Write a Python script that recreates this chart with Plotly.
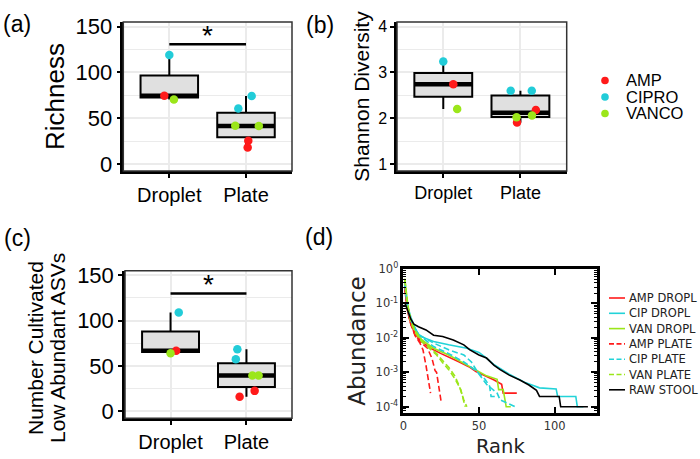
import numpy as np
import plotly.graph_objects as go

W, H = 700, 459
def PX(x): return x / W
def PY(y): return 1 - y / H

# ---------------- data ----------------
group_labels = ["Droplet", "Plate"]
abx_names = ["AMP", "CIPRO", "VANCO"]
abx_colors = {"AMP": "#FF1A1A", "CIPRO": "#22CCD8", "VANCO": "#9BE61A"}

pt_group = [1, 1, 1, 2, 2, 2, 2, 2, 2]
pt_abx = ["AMP", "CIPRO", "VANCO", "AMP", "AMP", "CIPRO", "CIPRO", "VANCO", "VANCO"]

# (a) Richness
a_val = [74.5, 119, 70.6, 25.4, 18.2, 60.7, 74.2, 41.8, 41.5]
a_jit = [-0.065, 0.0, 0.06, 0.03, 0.022, -0.10, 0.074, -0.14, 0.167]
# (b) Shannon diversity
b_val = [2.74, 3.24, 2.20, 2.18, 1.91, 2.60, 2.60, 2.06, 2.02]
b_jit = [0.13, 0.0, 0.18, 0.20, -0.044, -0.126, 0.147, 0.15, -0.05]
# (c) Number of cultivated low-abundant ASVs
c_val = [66.9, 109, 64, 22.7, 16.1, 68.4, 57.5, 39.5, 39.5]
c_jit = [0.074, 0.108, 0.0, 0.108, -0.09, -0.12, -0.14, 0.078, 0.16]

sig_a = 130.6
sig_c = 129.8

# (d) rank-abundance curves
amp_dropl_rank = [1, 2, 3, 5, 8, 12, 18, 25, 30, 37, 44, 48, 53, 60, 65, 66, 75]
amp_dropl_ab = [0.251, 0.112, 0.056, 0.025, 0.0126, 0.0079, 0.005, 0.0035, 0.0028, 0.002,
                0.0014, 0.00105, 0.00083, 0.0006, 0.00045, 0.00025, 0.00025]
cip_dropl_rank = [1, 2, 3, 5, 8, 11, 20, 30, 42, 50, 55, 60, 70, 80, 90, 101, 102, 114, 115, 119]
cip_dropl_ab = [0.316, 0.141, 0.079, 0.040, 0.018, 0.0112, 0.0079, 0.0063, 0.005, 0.0038,
                0.0026, 0.00166, 0.00089, 0.00052, 0.000355, 0.00033, 0.0002, 0.0002, 0.0001, 0.0001]
van_dropl_rank = [1, 2, 3, 5, 8, 12, 20, 30, 40, 48, 55, 62, 63, 66, 67, 68, 71]
van_dropl_ab = [0.5, 0.158, 0.079, 0.032, 0.016, 0.0089, 0.005, 0.0032, 0.0018, 0.00112,
                0.00079, 0.00063, 0.000316, 0.000316, 0.000158, 0.0001, 0.0001]
amp_plate1_rank = [1, 2, 3, 5, 8, 11, 13, 15, 17, 18]
amp_plate1_ab = [0.282, 0.112, 0.056, 0.025, 0.0112, 0.0071, 0.0045, 0.00158, 0.0005, 0.00025]
amp_plate2_rank = [1, 3, 5, 8, 12, 16, 19, 21, 22, 23, 25]
amp_plate2_ab = [0.316, 0.063, 0.025, 0.0112, 0.0071, 0.005, 0.0025, 0.00112, 0.001, 0.0005, 0.000141]
cip_plate1_rank = [1, 3, 5, 10, 20, 30, 40, 45, 50, 55, 62, 64, 74]
cip_plate1_ab = [0.355, 0.063, 0.032, 0.0126, 0.0071, 0.0045, 0.0032, 0.002, 0.00089, 0.00045,
                 0.00025, 0.000158, 0.0001]
cip_plate2_rank = [1, 3, 5, 10, 20, 30, 40, 48, 54, 57, 58, 61]
cip_plate2_ab = [0.447, 0.071, 0.032, 0.0126, 0.0056, 0.0035, 0.002, 0.00112, 0.00063, 0.0004,
                 0.0002, 0.0002]
van_plate1_rank = [1, 2, 3, 5, 8, 12, 18, 22, 26, 30, 34, 37, 40, 42]
van_plate1_ab = [0.525, 0.2, 0.089, 0.032, 0.016, 0.0089, 0.005, 0.0035, 0.0022, 0.0014,
                 0.00079, 0.0004, 0.000158, 0.0001]
van_plate2_rank = [1, 2, 3, 5, 8, 12, 18, 22, 26, 30, 34, 38, 40, 41]
van_plate2_ab = [0.479, 0.178, 0.079, 0.028, 0.014, 0.0079, 0.0045, 0.0032, 0.0019, 0.0012,
                 0.00066, 0.000316, 0.000141, 0.0001]
raw_rank = [1, 3, 5, 7, 10, 15, 20, 26, 33, 40, 44, 50, 55, 60, 64, 70, 77, 83, 88, 90, 103, 104, 122]
raw_ab = [0.105, 0.060, 0.035, 0.025, 0.021, 0.017, 0.012, 0.011, 0.0087, 0.0063, 0.0045, 0.0032,
          0.0026, 0.0016, 0.0012, 0.00083, 0.0006, 0.00043, 0.0003, 0.0002, 0.0002, 0.0001, 0.0001]

line_names = ["AMP DROPL", "CIP DROPL", "VAN DROPL", "AMP PLATE", "CIP PLATE", "VAN PLATE", "RAW STOOL"]
line_colors = ["#FF1A1A", "#22D3D8", "#9BE61A", "#FF1A1A", "#22D3D8", "#9BE61A", "#000000"]
line_dash = ["solid", "solid", "solid", "6px,3px", "6px,3px", "6px,3px", "solid"]

d_series = [
    (0, amp_dropl_rank, amp_dropl_ab), (1, cip_dropl_rank, cip_dropl_ab),
    (2, van_dropl_rank, van_dropl_ab),
    (3, amp_plate1_rank, amp_plate1_ab), (3, amp_plate2_rank, amp_plate2_ab),
    (4, cip_plate1_rank, cip_plate1_ab), (4, cip_plate2_rank, cip_plate2_ab),
    (5, van_plate1_rank, van_plate1_ab), (5, van_plate2_rank, van_plate2_ab),
    (6, raw_rank, raw_ab),
]

FONT = "Liberation Sans, Arial, sans-serif"
MFONT = "DejaVu Sans, Verdana, sans-serif"
GRID = "#EBEBEB"

fig = go.Figure()

def box_stats(v):
    q1, med, q3 = np.percentile(v, [25, 50, 75])
    iqr = q3 - q1
    lo = v[v >= q1 - 1.5 * iqr].min()
    hi = v[v <= q3 + 1.5 * iqr].max()
    return q1, med, q3, lo, hi

def box_panel(vals, jit, xa, ya, sig=None):
    v = np.array(vals, dtype=float)
    g = np.array(pt_group)
    stats = [box_stats(v[g == gi]) for gi in (1, 2)]
    fig.add_trace(go.Box(x=[1, 2], q1=[s[0] for s in stats], median=[s[1] for s in stats],
                         q3=[s[2] for s in stats], lowerfence=[s[3] for s in stats],
                         upperfence=[s[4] for s in stats], width=0.75,
                         boxpoints=False, fillcolor="#E0E0E0",
                         line=dict(color="black", width=2), whiskerwidth=0,
                         xaxis=xa, yaxis=ya, showlegend=False, hoverinfo="skip"))
    for gi, s in zip((1, 2), stats):
        fig.add_trace(go.Scatter(x=[gi - 0.375, gi + 0.375], y=[s[1], s[1]], mode="lines",
                                 line=dict(color="black", width=4.5), xaxis=xa, yaxis=ya,
                                 showlegend=False, hoverinfo="skip"))
    if sig is not None:
        fig.add_trace(go.Scatter(x=[1, 2], y=[sig, sig], mode="lines",
                                 line=dict(color="black", width=2.5), xaxis=xa, yaxis=ya,
                                 showlegend=False, hoverinfo="skip"))
    for ab in abx_names:
        idx = [i for i, a in enumerate(pt_abx) if a == ab]
        fig.add_trace(go.Scatter(x=[pt_group[i] + jit[i] for i in idx], y=[vals[i] for i in idx],
                                 mode="markers", marker=dict(color=abx_colors[ab], size=8.5),
                                 name=ab, xaxis=xa, yaxis=ya, showlegend=False))

box_panel(a_val, a_jit, "x", "y", sig_a)
box_panel(b_val, b_jit, "x2", "y2")
box_panel(c_val, c_jit, "x3", "y3", sig_c)

for k, r, a in d_series:
    fig.add_trace(go.Scatter(x=r, y=a, mode="lines",
                             line=dict(color=line_colors[k], width=1.6, dash=line_dash[k]),
                             name=line_names[k], xaxis="x4", yaxis="y4", showlegend=False))

def xcat(domain, anchor, fs):
    return dict(domain=domain, anchor=anchor, range=[0.4, 2.6], tickvals=[1, 2],
                ticktext=group_labels, ticks="outside", ticklen=4, tickwidth=2,
                tickcolor="black", showline=True, linewidth=2.5, linecolor="black",
                showgrid=True, gridcolor=GRID, gridwidth=1.5, zeroline=False, automargin=False,
                tickfont=dict(size=fs, color="black", family=FONT))

def yval(domain, anchor, rng, tv, minor_dt, fs, title=None, tfs=20, standoff=8):
    d = dict(domain=domain, anchor=anchor, range=rng, tickvals=tv, ticks="outside",
             ticklen=4, tickwidth=2, tickcolor="black", showline=True, linewidth=2.5,
             linecolor="black", showgrid=True, gridcolor=GRID, gridwidth=1.5,
             zeroline=False, automargin=False,
             minor=dict(dtick=minor_dt, tick0=0, showgrid=True,
                        gridcolor=GRID, gridwidth=1),
             tickfont=dict(size=fs, color="black", family=FONT))
    if title:
        d["title"] = dict(text=title, font=dict(size=tfs, color="black", family=FONT),
                          standoff=standoff)
    return d

dom_a_x = [PX(123.3), PX(292)]
dom_top_y = [PY(171), PY(22)]
dom_b_x = [PX(397), PX(566.7)]
dom_c_x = [PX(125), PX(292)]
dom_c_y = [PY(418.3), PY(270.7)]
dom_d_x = [PX(403.3), PX(597)]
dom_d_y = [PY(413), PY(269)]

layout = dict(
    template="none",
    width=W, height=H, margin=dict(l=0, r=0, t=0, b=0, pad=0),
    paper_bgcolor="white", plot_bgcolor="white",
    font=dict(family=FONT, color="black"),
    showlegend=False,
    xaxis=xcat(dom_a_x, "y", 20),
    yaxis=yval(dom_top_y, "x", [-7.5, 155], [0, 50, 100, 150], 25, 22, "Richness", 26, 4),
    xaxis2=xcat(dom_b_x, "y2", 18),
    yaxis2=yval(dom_top_y, "x2", [0.85, 4.1], [1, 2, 3, 4], 0.5, 16, "Shannon Diversity", 21, 3),
    xaxis3=xcat(dom_c_x, "y3", 20),
    yaxis3=yval(dom_c_y, "x3", [-7.5, 155], [0, 50, 100, 150], 25, 22),
    xaxis4=dict(domain=dom_d_x, anchor="y4", range=[0, 128], tickvals=[0, 50, 100],
                ticks="inside", ticklen=6, tickwidth=1.5, tickcolor="black",
                showline=True, linewidth=2.5, linecolor="black", mirror="allticks",
                showgrid=False, zeroline=False, automargin=False,
                tickfont=dict(size=11.5, color="#333333", family=MFONT)),
    yaxis4=dict(domain=dom_d_y, anchor="x4", type="log", range=[-4.18, 0],
                tickvals=[1e-4, 1e-3, 1e-2, 1e-1, 1],
                ticktext=["10<sup>-4</sup>", "10<sup>-3</sup>", "10<sup>-2</sup>",
                          "10<sup>-1</sup>", "10<sup>0</sup>"],
                ticks="inside", ticklen=6, tickwidth=1.5, tickcolor="black",
                showline=True, linewidth=2.5, linecolor="black", mirror="allticks",
                showgrid=False, zeroline=False, automargin=False,
                minor=dict(dtick="D1", ticks="inside", ticklen=3, tickwidth=1,
                           tickcolor="black", showgrid=False),
                tickfont=dict(size=11.5, color="#333333", family=MFONT),
                title=dict(text="Abundance", font=dict(size=23, color="#222222", family=MFONT),
                           standoff=4)),
)

shapes = []
for xr, yr in (("x", "y"), ("x2", "y2"), ("x3", "y3")):
    shapes.append(dict(type="rect", xref=xr + " domain", yref=yr + " domain",
                       x0=0, x1=1, y0=0, y1=1, line=dict(color="#333333", width=1.5),
                       layer="above"))

annotations = []
for txt, x, y in (("(a)", 17, 24), ("(b)", 320, 25), ("(c)", 17, 238), ("(d)", 319, 237)):
    annotations.append(dict(text=txt, x=PX(x), y=PY(y), xref="paper", yref="paper",
                            showarrow=False, xanchor="center", yanchor="middle",
                            font=dict(size=23, color="black", family=FONT)))
for xr, yr, s in (("x", "y", sig_a), ("x3", "y3", sig_c)):
    annotations.append(dict(text="*", x=1.5, y=s - 9, xref=xr, yref=yr, showarrow=False,
                            xanchor="center", yanchor="bottom",
                            font=dict(size=28, color="black", family=FONT)))

# two-line y title of (c)
for txt, x in (("Number Cultivated", 35), ("Low Abundant ASVs", 57)):
    annotations.append(dict(text=txt, x=PX(x), y=PY(348), xref="paper", yref="paper",
                            showarrow=False, textangle=-90, xanchor="center", yanchor="middle",
                            font=dict(size=21, color="black", family=FONT)))

# x title of (d)
annotations.append(dict(text="Rank", x=0.5, y=PY(446), xref="x4 domain", yref="paper",
                        showarrow=False, xanchor="center", yanchor="middle",
                        font=dict(size=19.5, color="#222222", family=MFONT)))

# legend for (a)-(c)
leg_y = [80.5, 97, 113.5]
for ab, yy in zip(abx_names, leg_y):
    shapes.append(dict(type="circle", xref="paper", yref="paper", xsizemode="pixel",
                       ysizemode="pixel", xanchor=PX(605), yanchor=PY(yy),
                       x0=-3.8, x1=3.8, y0=-3.8, y1=3.8,
                       fillcolor=abx_colors[ab], line=dict(width=0)))
    annotations.append(dict(text=ab, x=PX(624), y=PY(yy), xref="paper", yref="paper",
                            showarrow=False, xanchor="left", yanchor="middle",
                            font=dict(size=16.5, color="black", family=FONT)))

# legend for (d)
leg_d_y = [298, 313.3, 328.6, 343.9, 359.2, 374.5, 389.8]
for k, yy in enumerate(leg_d_y):
    shapes.append(dict(type="line", xref="paper", yref="paper", x0=PX(609), x1=PX(625),
                       y0=PY(yy), y1=PY(yy),
                       line=dict(color=line_colors[k], width=1.6,
                                 dash="5px,2.5px" if line_dash[k] != "solid" else "solid")))
    annotations.append(dict(text=line_names[k], x=PX(627), y=PY(yy), xref="paper", yref="paper",
                            showarrow=False, xanchor="left", yanchor="middle",
                            font=dict(size=11.5, color="#222222", family=MFONT)))

layout["shapes"] = shapes
layout["annotations"] = annotations
fig.update_layout(**layout)
fig.write_html("out.html", config={"displayModeBar": False},
               post_script="document.body.style.margin='0';document.body.style.padding='0';")
